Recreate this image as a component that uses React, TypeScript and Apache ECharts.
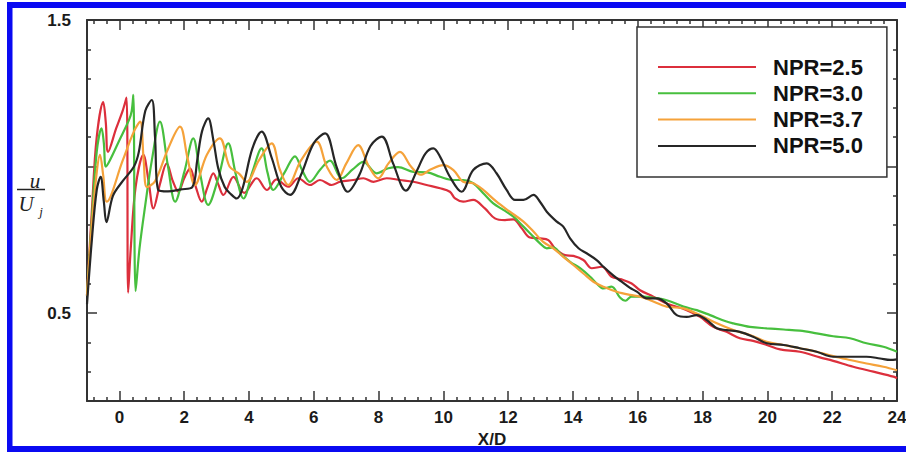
import React, { useEffect, useRef } from 'react';
import * as echarts from 'echarts';

const seriesNames = ['NPR=2.5', 'NPR=3.0', 'NPR=3.7', 'NPR=5.0'];
const seriesColors = ['#dc2f3c', '#47bf3e', '#f5a23a', '#262626'];

const npr25: number[][] = [
  [-1.0, 0.56], [-0.85, 0.85], [-0.7, 1.1], [-0.5, 1.22], [-0.42, 1.15], [-0.35, 1.05],
  [-0.1, 1.13], [0.1, 1.19], [0.22, 1.235], [0.27, 0.57], [0.35, 0.72], [0.5, 0.93],
  [0.74, 1.04], [0.9, 0.95], [1.05, 0.857], [1.25, 0.94], [1.46, 1.011], [1.65, 0.95],
  [1.82, 0.914], [2.0, 0.96], [2.18, 0.994], [2.36, 0.93], [2.54, 0.88], [2.72, 0.93],
  [2.9, 0.977], [3.05, 0.94], [3.21, 0.903], [3.52, 0.965], [3.85, 0.91], [4.24, 0.96],
  [4.55, 0.92], [4.85, 0.956], [5.21, 0.931], [5.52, 0.96], [5.88, 0.937], [6.19, 0.954],
  [6.55, 0.937], [6.81, 0.948], [7.22, 0.954], [7.53, 0.96], [7.84, 0.948], [8.25, 0.96],
  [8.66, 0.954], [9.07, 0.948], [9.48, 0.937], [9.9, 0.926], [10.2, 0.914], [10.36, 0.891],
  [10.61, 0.88], [10.92, 0.886], [11.28, 0.857], [11.59, 0.823], [11.9, 0.817], [12.16, 0.82],
  [12.42, 0.789], [12.67, 0.758], [12.98, 0.755], [13.24, 0.749], [13.44, 0.721], [13.75, 0.698],
  [14.01, 0.695], [14.32, 0.681], [14.58, 0.653], [14.89, 0.658], [15.19, 0.624], [15.5, 0.615],
  [15.81, 0.601], [16.07, 0.578], [16.48, 0.556], [16.89, 0.533], [17.51, 0.51], [17.92, 0.487],
  [18.33, 0.453], [18.74, 0.436], [19.15, 0.414], [19.56, 0.405], [19.98, 0.391], [20.39, 0.376],
  [21.0, 0.368], [21.62, 0.349], [22.03, 0.337], [22.65, 0.317], [23.27, 0.3], [23.89, 0.283],
  [24.0, 0.278],
];

const npr30: number[][] = [
  [-1.0, 0.56], [-0.85, 0.82], [-0.7, 1.05], [-0.55, 1.13], [-0.48, 1.08], [-0.42, 1.0],
  [-0.3, 1.02], [0.0, 1.09], [0.3, 1.16], [0.38, 1.19], [0.43, 1.245], [0.5, 0.575],
  [0.62, 0.72], [0.8, 0.87], [1.0, 1.02], [1.25, 1.153], [1.5, 1.0], [1.72, 0.88],
  [2.0, 0.98], [2.28, 1.096], [2.5, 0.97], [2.74, 0.869], [3.05, 0.96], [3.36, 1.079],
  [3.6, 0.97], [3.83, 0.891], [4.1, 0.98], [4.39, 1.062], [4.57, 0.98], [4.75, 0.92],
  [5.1, 0.98], [5.42, 1.035], [5.63, 0.99], [5.88, 0.948], [6.2, 0.99], [6.5, 1.02],
  [6.86, 0.96], [7.2, 0.99], [7.53, 1.016], [7.94, 0.977], [8.3, 0.994], [8.6, 0.998],
  [9.07, 0.982], [9.5, 0.98], [9.9, 0.965], [10.3, 0.954], [10.61, 0.954], [10.92, 0.943],
  [11.23, 0.909], [11.54, 0.874], [11.85, 0.852], [12.16, 0.829], [12.47, 0.795], [12.78, 0.76],
  [12.98, 0.738], [13.19, 0.721], [13.39, 0.724], [13.6, 0.704], [13.91, 0.675], [14.22, 0.653],
  [14.53, 0.624], [14.73, 0.601], [14.94, 0.584], [15.19, 0.59], [15.45, 0.553], [15.62, 0.542],
  [15.8, 0.556], [16.17, 0.556], [16.5, 0.552], [16.89, 0.544], [17.41, 0.522], [17.82, 0.51],
  [18.23, 0.493], [18.74, 0.471], [18.95, 0.465], [19.46, 0.453], [19.98, 0.448], [20.5, 0.444],
  [21.0, 0.44], [21.52, 0.431], [22.03, 0.421], [22.55, 0.414], [23.06, 0.397], [23.58, 0.385],
  [24.0, 0.368],
];

const npr37: number[][] = [
  [-1.0, 0.56], [-0.85, 0.8], [-0.7, 0.98], [-0.6, 1.04], [-0.5, 0.97], [-0.39, 0.88],
  [0.1, 1.02], [0.45, 1.12], [0.64, 1.153], [0.75, 1.02], [0.85, 0.93], [1.1, 0.95],
  [1.5, 1.06], [1.87, 1.136], [2.1, 1.03], [2.33, 0.937], [2.7, 1.04], [3.1, 1.096],
  [3.4, 1.0], [3.7, 0.975], [3.93, 0.948], [4.3, 1.02], [4.7, 1.079], [4.95, 0.99],
  [5.21, 0.937], [5.6, 1.02], [6.09, 1.085], [6.4, 1.0], [6.71, 0.954], [7.0, 1.01],
  [7.37, 1.073], [7.7, 1.0], [7.99, 0.96], [8.3, 1.01], [8.66, 1.05], [9.0, 1.0],
  [9.3, 0.972], [9.6, 0.99], [10.0, 1.005], [10.31, 0.988], [10.61, 0.948], [10.92, 0.943],
  [11.23, 0.92], [11.64, 0.88], [12.05, 0.846], [12.47, 0.812], [12.78, 0.778], [13.08, 0.743],
  [13.39, 0.721], [13.7, 0.692], [14.01, 0.664], [14.32, 0.635], [14.63, 0.607], [14.94, 0.59],
  [15.35, 0.573], [15.76, 0.562], [16.07, 0.556], [16.38, 0.544], [16.89, 0.522], [17.41, 0.516],
  [17.92, 0.493], [18.44, 0.465], [18.95, 0.442], [19.46, 0.425], [19.98, 0.402], [20.5, 0.391],
  [21.0, 0.38], [21.52, 0.368], [22.03, 0.353], [22.55, 0.34], [23.06, 0.328], [23.58, 0.317],
  [24.0, 0.305],
];

const npr50: number[][] = [
  [-1.0, 0.53], [-0.85, 0.75], [-0.7, 0.92], [-0.58, 0.965], [-0.48, 0.88], [-0.4, 0.81],
  [-0.2, 0.9], [0.1, 0.95], [0.45, 1.0], [0.6, 1.05], [0.8, 1.19], [1.0, 1.227],
  [1.1, 1.1], [1.2, 0.92], [1.5, 0.915], [1.9, 0.922], [2.25, 0.93], [2.4, 1.02],
  [2.55, 1.12], [2.74, 1.164], [2.9, 1.09], [3.05, 0.994], [3.25, 0.93], [3.42, 0.908],
  [3.62, 0.891], [3.8, 0.925], [4.1, 1.06], [4.39, 1.119], [4.7, 1.03], [5.0, 0.93],
  [5.27, 0.903], [5.6, 0.97], [6.0, 1.08], [6.35, 1.113], [6.7, 1.0], [7.05, 0.914],
  [7.4, 0.97], [7.75, 1.07], [8.1, 1.102], [8.45, 1.01], [8.84, 0.918], [9.2, 0.99],
  [9.45, 1.045], [9.69, 1.062], [9.9, 1.033], [10.2, 0.965], [10.56, 0.914], [10.92, 0.988],
  [11.34, 1.011], [11.64, 0.977], [11.95, 0.92], [12.21, 0.886], [12.47, 0.886], [12.78, 0.903],
  [12.98, 0.88], [13.19, 0.846], [13.5, 0.812], [13.7, 0.795], [13.91, 0.755], [14.17, 0.721],
  [14.42, 0.704], [14.73, 0.681], [14.94, 0.658], [15.25, 0.628], [15.5, 0.607], [15.76, 0.586],
  [15.97, 0.573], [16.28, 0.55], [16.58, 0.55], [16.89, 0.533], [17.2, 0.493], [17.51, 0.487],
  [17.82, 0.493], [18.13, 0.476], [18.44, 0.448], [18.74, 0.442], [19.15, 0.436], [19.56, 0.419],
  [19.98, 0.397], [20.5, 0.391], [21.0, 0.38], [21.52, 0.368], [22.03, 0.351], [22.55, 0.351],
  [23.06, 0.351], [23.48, 0.345], [23.79, 0.34], [24.0, 0.342],
];

const seriesData = [npr25, npr30, npr37, npr50];

const xMajorTicks = [0, 2, 4, 6, 8, 10, 12, 14, 16, 18, 20, 22, 24];
const xMinorTicks = [
  -0.8, -0.4, 0.4, 0.8, 1.2, 1.6, 2.4, 2.8, 3.2, 3.6, 4.4, 4.8, 5.2, 5.6, 6.4, 6.8, 7.2, 7.6,
  8.4, 8.8, 9.2, 9.6, 10.4, 10.8, 11.2, 11.6, 12.4, 12.8, 13.2, 13.6, 14.4, 14.8, 15.2, 15.6,
  16.4, 16.8, 17.2, 17.6, 18.4, 18.8, 19.2, 19.6, 20.4, 20.8, 21.2, 21.6, 22.4, 22.8, 23.2, 23.6,
];
const yMajorTicks = [0.5, 1.0, 1.5];
const yLabelValues = [0.5, 1.5];
const yMinorTicks = [0.3, 0.4, 0.6, 0.7, 0.8, 0.9, 1.1, 1.2, 1.3, 1.4];

const FONT = "'Liberation Sans', Arial, Helvetica, sans-serif";
const AXIS_COLOR = '#333';

function xAxisDef(position: string, ticks: number[], len: number, withLabels: boolean, withLine: boolean) {
  return {
    type: 'value',
    position,
    min: -1,
    max: 24,
    axisLine: { show: withLine, onZero: false, lineStyle: { color: AXIS_COLOR, width: 2 } },
    axisTick: { show: true, inside: true, length: len, customValues: ticks, lineStyle: { color: AXIS_COLOR, width: 1.5 } },
    axisLabel: withLabels
      ? { show: true, customValues: xMajorTicks, fontSize: 17, fontWeight: 'bold', color: '#1a1a1a', fontFamily: FONT, margin: 8, showMinLabel: true, showMaxLabel: true }
      : { show: false },
    splitLine: { show: false },
    ...(withLabels
      ? {
          name: 'X/D',
          nameLocation: 'middle',
          nameGap: 28,
          nameTextStyle: { fontSize: 17, fontWeight: 'bold', color: '#1a1a1a', fontFamily: FONT },
        }
      : {}),
  };
}

function yAxisDef(position: string, ticks: number[], len: number, withLabels: boolean, withLine: boolean) {
  return {
    type: 'value',
    position,
    min: 0.2,
    max: 1.5,
    axisLine: { show: withLine, onZero: false, lineStyle: { color: AXIS_COLOR, width: 2 } },
    axisTick: { show: true, inside: true, length: len, customValues: ticks, lineStyle: { color: AXIS_COLOR, width: 1.5 } },
    axisLabel: withLabels
      ? { show: true, customValues: yLabelValues, fontSize: 17, fontWeight: 'bold', color: '#1a1a1a', fontFamily: FONT, margin: 16, showMinLabel: true, showMaxLabel: true, formatter: (v: number) => v.toFixed(1) }
      : { show: false },
    splitLine: { show: false },
  };
}

export default function App() {
  const ref = useRef<HTMLDivElement>(null);
  useEffect(() => {
    if (!ref.current) return;
    const chart = echarts.init(ref.current, undefined, { renderer: 'svg' });
    const option = {
      animation: false,
      backgroundColor: '#ffffff',
      grid: { left: 87, right: 9, top: 20, bottom: 51, containLabel: false, outerBoundsMode: 'none' },
      xAxis: [
        xAxisDef('bottom', xMajorTicks, 10, true, true),
        xAxisDef('bottom', xMinorTicks, 4, false, false),
        xAxisDef('top', xMajorTicks, 10, false, true),
        xAxisDef('top', xMinorTicks, 4, false, false),
      ],
      yAxis: [
        yAxisDef('left', yMajorTicks, 10, true, true),
        yAxisDef('left', yMinorTicks, 4, false, false),
        yAxisDef('right', yMajorTicks, 10, false, true),
        yAxisDef('right', yMinorTicks, 4, false, false),
      ],
      legend: {
        data: seriesNames,
        orient: 'vertical',
        left: 637,
        top: 27,
        padding: [29, 24, 20, 20],
        itemWidth: 98,
        itemHeight: 22,
        itemGap: 4.3,
        borderColor: '#333',
        borderWidth: 1.5,
        backgroundColor: '#ffffff',
        itemStyle: { opacity: 0 },
        lineStyle: { width: 2 },
        textStyle: { fontSize: 22, fontWeight: 'bold', fontFamily: FONT, color: '#111', padding: [0, 0, 0, 12] },
      },
      series: seriesNames.map((name, i) => ({
        name,
        type: 'line',
        data: seriesData[i],
        xAxisIndex: 0,
        yAxisIndex: 0,
        smooth: 0.35,
        symbol: 'none',
        showSymbol: false,
        lineStyle: { color: seriesColors[i], width: 2.2 },
        itemStyle: { color: seriesColors[i] },
        z: 2 + i,
      })),
      graphic: [
        { type: 'rect', shape: { x: 7, y: 2, width: 899, height: 6 }, style: { fill: '#0a0af2' }, silent: true },
        { type: 'rect', shape: { x: 7, y: 2, width: 5.5, height: 450 }, style: { fill: '#0a0af2' }, silent: true },
        { type: 'rect', shape: { x: 7, y: 446, width: 899, height: 6 }, style: { fill: '#0a0af2' }, silent: true },
        {
          type: 'text',
          x: 35,
          y: 181,
          style: { text: 'u', font: "italic 21px 'Liberation Serif', 'DejaVu Serif', serif", fill: '#222', align: 'center', verticalAlign: 'middle' },
        },
        { type: 'line', shape: { x1: 17, y1: 189.5, x2: 45, y2: 189.5 }, style: { stroke: '#222', lineWidth: 1.5 } },
        {
          type: 'text',
          x: 26,
          y: 204,
          style: { text: 'U', font: "italic 21px 'Liberation Serif', 'DejaVu Serif', serif", fill: '#222', align: 'center', verticalAlign: 'middle' },
        },
        {
          type: 'text',
          x: 41,
          y: 211,
          style: { text: 'j', font: "italic 13px 'Liberation Serif', 'DejaVu Serif', serif", fill: '#222', align: 'center', verticalAlign: 'middle' },
        },
      ],
    };
    chart.setOption(option as any);
    return () => {
      chart.dispose();
    };
  }, []);
  return (
    <div
      ref={ref}
      style={{ position: 'absolute', left: 0, top: 0, width: 906, height: 452, background: '#fff' }}
    />
  );
}
